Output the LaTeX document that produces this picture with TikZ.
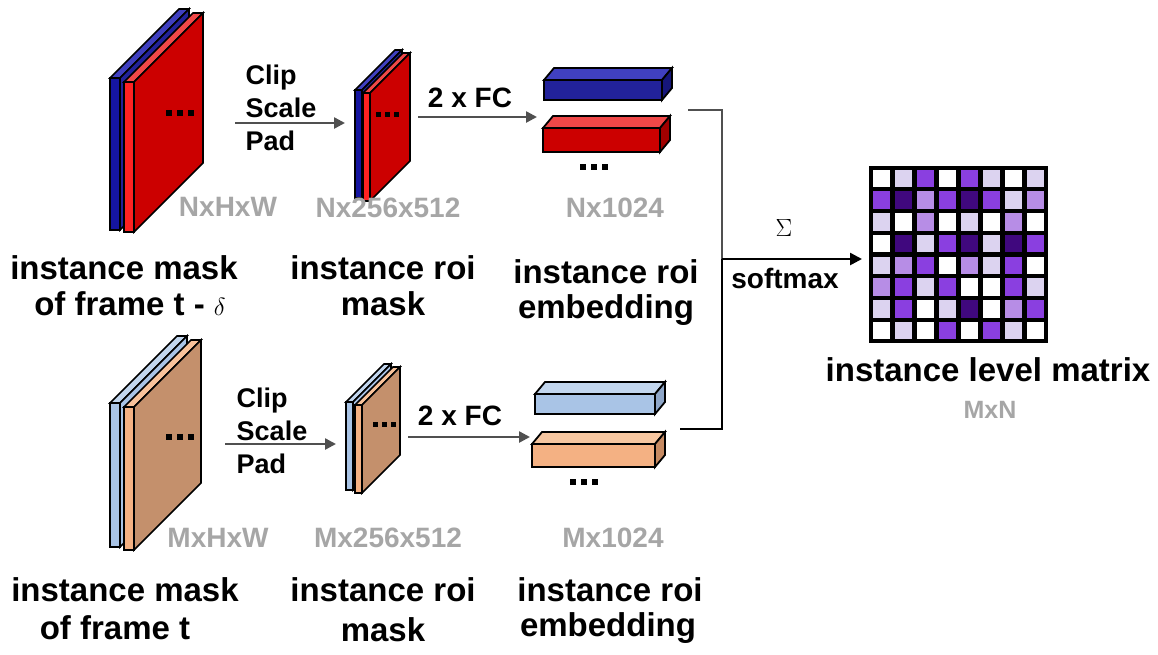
\documentclass[tikz,border=0pt]{standalone}
\usepackage{fontspec}
\setmainfont{Liberation Sans}
\usetikzlibrary{arrows.meta}
\definecolor{rF}{HTML}{CC0000}\definecolor{rS}{HTML}{FF2222}\definecolor{rT}{HTML}{F04848}
\definecolor{bF}{HTML}{22229A}\definecolor{bS}{HTML}{1515A0}\definecolor{bT}{HTML}{4040C0}
\definecolor{lbF}{HTML}{A9C4E6}\definecolor{lbT}{HTML}{C2D6EE}
\definecolor{tF}{HTML}{C4906C}\definecolor{tS}{HTML}{F4B183}\definecolor{tT}{HTML}{F8C29A}
\definecolor{sF}{HTML}{F4B183}\definecolor{sT}{HTML}{F6C6A0}\definecolor{sS}{HTML}{C68A62}
\definecolor{lbS}{HTML}{8EA6C8}\definecolor{rSide}{HTML}{A00000}\definecolor{bSide}{HTML}{16167A}
\definecolor{gtxt}{HTML}{A6A6A6}\definecolor{garr}{HTML}{505050}
\definecolor{cW}{HTML}{FFFFFF}\definecolor{cL}{HTML}{DCD3F0}\definecolor{cM}{HTML}{B78DE6}
\definecolor{cP}{HTML}{8A3FE0}\definecolor{cD}{HTML}{40087E}
% slab: x, ytop, ybot, w, d, strip, face, top
\newcommand\myslab[8]{%
  \draw[line width=1.6pt,fill=#8] (#1,#2)--++(#5,-#5)--++(#4,0)--(#1+#4,#2)--cycle;
  \draw[line width=1.6pt,fill=#7] (#1+#4,#2)--++(#5,-#5)--(#1+#4+#5,#3-#5)--(#1+#4,#3)--cycle;
  \draw[line width=1.6pt,fill=#6] (#1,#2) rectangle (#1+#4,#3);}
% bar: x1,y1,x2,y2,front,top,side
\newcommand\mybar[7]{%
  \draw[line width=1.8pt,fill=#6] (#1,#2)--++(10,-12)--(#3+10,#2-12)--(#3,#2)--cycle;
  \draw[line width=1.8pt,fill=#7] (#3,#2)--++(10,-12)--(#3+10,#4-12)--(#3,#4)--cycle;
  \draw[line width=1.8pt,fill=#5] (#1,#2) rectangle (#3,#4);}
\newcommand\mydots[3]{\foreach \k in {0,1,2}{\fill (#1+\k*#3,#2) rectangle ++(#3*0.55,-#3*0.55);}}
\tikzset{
  lab/.style={font=\fontsize{33}{38}\selectfont\bfseries, align=center, inner sep=0},
  glab/.style={font=\fontsize{28}{32}\selectfont\bfseries, text=gtxt, inner sep=0},
  op/.style={font=\fontsize{27}{33}\selectfont\bfseries, align=left, inner sep=0},
  mid/.style={font=\fontsize{28}{32}\selectfont\bfseries, inner sep=0},
  arr/.style={draw=garr, line width=2.5pt, -{Triangle[length=11pt,width=11pt]}},
}
\begin{document}
\begin{tikzpicture}[x=1pt,y=-1pt]
\useasboundingbox (0,0) rectangle (1158,654);
% top-left stack
\myslab{110}{78}{230}{10}{69}{bS}{bF}{bT}
\myslab{124}{82}{232}{10}{69}{rS}{rF}{rT}
\mydots{166}{116}{11}
% bottom-left stack
\myslab{110}{403}{547}{10}{67}{lbF}{lbF}{lbT}
\myslab{124}{407}{550}{10}{67}{tS}{tF}{tT}
\mydots{166}{440}{11}
% mid stacks
\myslab{355}{90}{198}{7}{40}{bS}{bF}{bT}
\myslab{363}{93}{201}{7}{40}{rS}{rF}{rT}
\mydots{376}{117}{9}
\myslab{346}{402}{490}{7}{38}{lbF}{lbF}{lbT}
\myslab{355}{405}{493}{7}{38}{tS}{tF}{tT}
\mydots{373}{427}{9}
% bars
\mybar{544}{80}{662}{100}{bF}{bT}{bSide}
\mybar{543}{128}{660}{152}{rF}{rT}{rSide}
\mydots{580}{170}{11}
\mybar{535}{394}{655}{414}{lbF}{lbT}{lbS}
\mybar{532}{444}{655}{467}{sF}{sT}{sS}
\mydots{570}{485}{11}
% matrix
\fill (869,166) rectangle (1048,343);
\foreach \row [count=\r from 0] in {
 {W,L,P,W,P,L,W,L},{P,D,M,P,D,P,L,M},{L,W,M,W,L,W,M,W},{W,D,L,P,D,L,D,P},
 {L,M,P,W,M,L,P,W},{M,P,L,P,W,W,P,L},{L,P,W,L,D,W,M,P},{W,L,W,P,W,P,L,W}}{
  \foreach \c [count=\q from 0] in \row {
    \fill[c\c] (872.5+\q*22.06,169.5+\r*21.75) rectangle ++(17.5,17.5);}}
% operation labels and arrows
\node[op] (op1) at (281,108) {Clip\\Scale\\Pad};
\coordinate (a1s) at (235,123); \coordinate (a1e) at (345,123);
\draw[arr] (a1s) -- (a1e);
\node[op] (op2) at (272,431) {Clip\\Scale\\Pad};
\coordinate (a2s) at (225,444); \coordinate (a2e) at (336,444);
\draw[arr] (a2s) -- (a2e);
\node[mid] (fc1) at (470,98) {2 x FC};
\coordinate (f1s) at (418,117); \coordinate (f1e) at (537,117);
\draw[arr] (f1s) -- (f1e);
\node[mid] (fc2) at (460,416) {2 x FC};
\coordinate (f2s) at (408,437); \coordinate (f2e) at (530,437);
\draw[arr] (f2s) -- (f2e);
% bracket
\coordinate (bt) at (688,110); \coordinate (bb) at (680,429);
\coordinate (jt) at (722,110); \coordinate (jm) at (722,259); \coordinate (jb) at (722,429);
\coordinate (me) at (862,259);
\draw[garr, line width=2.5pt] (bt) -- (jt) -- (jm);
\draw[black, line width=2.5pt] (bb) -- (jb) -- (jm);
\draw[black, line width=2.5pt, -{Triangle[length=12pt,width=12pt]}] (jm) -- (me);
\node[inner sep=0,font=\fontsize{40}{44}\selectfont] (sig) at (784,228) {$\Sigma$};
\node[mid] (sm) at (785,278) {softmax};
% labels
\node[lab] (l1) at (124,268) {instance mask};
\node[lab] (l2) at (130,304) {of frame t - $\delta$};
\node[lab] (l3) at (383,268) {instance roi};
\node[lab] (l4) at (383,304) {mask};
\node[lab] (l5) at (606,272) {instance roi};
\node[lab] (l6) at (606,310) {embedding};
\node[lab] (l7) at (125,590) {instance mask};
\node[lab] (l8) at (115,628) {of frame t};
\node[lab] (l9) at (383,590) {instance roi};
\node[lab] (l10) at (383,630) {mask};
\node[lab] (l11) at (610,590) {instance roi};
\node[lab] (l12) at (608,628) {embedding};
\node[lab] (l13) at (988,370) {instance level matrix};
\node[glab,font=\fontsize{25}{28}\selectfont\bfseries] (g7) at (990,410) {MxN};
\node[glab] (g1) at (228,207) {NxHxW};
\node[glab] (g2) at (388,208) {Nx256x512};
\node[glab] (g3) at (615,208) {Nx1024};
\node[glab] (g4) at (218,538) {MxHxW};
\node[glab] (g5) at (388,538) {Mx256x512};
\node[glab] (g6) at (613,538) {Mx1024};
\end{tikzpicture}
\end{document}
